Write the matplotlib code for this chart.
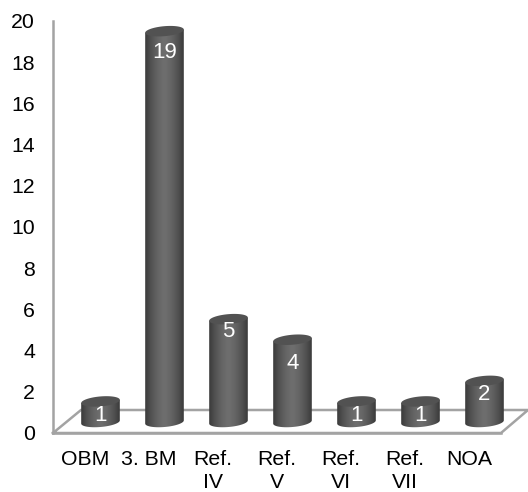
import numpy as np
import matplotlib
matplotlib.use("Agg")
import matplotlib.pyplot as plt
from matplotlib.patches import Polygon

plt.rcParams['font.family'] = ['Liberation Sans', 'DejaVu Sans']

categories = ["OBM", "3. BM", "Ref.\nIV", "Ref.\nV", "Ref.\nVI", "Ref.\nVII", "NOA"]
values = [1, 19, 5, 4, 1, 1, 2]
y_ticks = list(range(0, 21, 2))

W, H = 528, 492
LINE = "#a3a3a3"

fig = plt.figure(figsize=(W / 100, H / 100), dpi=100, facecolor="white")


def px_rect(x0, y_top, x1, y_bottom):
    return [x0 / W, 1 - y_bottom / H, (x1 - x0) / W, (y_bottom - y_top) / H]


# floor lines, in pixels
floor = fig.add_axes([0, 0, 1, 1])
floor.set_xlim(0, W)
floor.set_ylim(H, 0)
floor.axis("off")
floor.plot([53, 81, 528, 501, 53], [433, 410, 410, 433, 433], color=LINE, lw=1.8,
           solid_joinstyle="miter")

# axis with the labels
ax = fig.add_axes(px_rect(53, 21, 501, 433))
ax.patch.set_alpha(0)
ax.set_xlim(-0.5, 6.5)
ax.set_ylim(0, 20)
ax.set_yticks(y_ticks)
ax.set_xticks(range(len(categories)))
ax.set_xticklabels(categories, fontsize=15.3, color="black", linespacing=1.27)
ax.tick_params(axis="y", length=0, pad=13, labelsize=15.3)
ax.tick_params(axis="x", length=0, pad=12.5)
for name in ["top", "right"]:
    ax.spines[name].set_visible(False)
for name in ["left", "bottom"]:
    ax.spines[name].set_color(LINE)
    ax.spines[name].set_linewidth(1.8)

# cylinders, same values but shifted back on the floor
bars = fig.add_axes([0, 0, 1, 1])
bars.patch.set_alpha(0)
bars.axis("off")

half_w = 19.3 / 64
rad = 5 / 20.57
tilt = 1.6 / 20.57
label_drop = [0.68, 1.03, 0.6, 1.18, 0.68, 0.68, 0.68]

shade = np.abs(np.linspace(-1, 1, 64)) ** 1.6
grad = (0.43 - 0.2 * shade).reshape(1, -1)
t = np.linspace(0, 2 * np.pi, 80)

for i, v in enumerate(values):
    # body outline: straight sides, curved bottom
    tb = np.linspace(np.pi, 2 * np.pi, 40)
    xs = i + half_w * np.cos(tb)
    ys = rad * np.sin(tb) + tilt * np.cos(tb)
    xb = np.r_[xs, i + half_w, i - half_w]
    yb = np.r_[ys, v + tilt, v - tilt]
    body = Polygon(np.c_[xb, yb], closed=True, fc="none", ec="none")
    bars.add_patch(body)
    im = bars.imshow(grad, cmap="gray", vmin=0, vmax=1, aspect="auto", interpolation="bilinear",
                     extent=[i - half_w, i + half_w, -rad * 2, v + rad * 2], zorder=2)
    im.set_clip_path(body)
    top = Polygon(np.c_[i + half_w * np.cos(t), v + rad * np.sin(t) + tilt * np.cos(t)],
                  closed=True, fc="#525252", ec="none", zorder=3)
    bars.add_patch(top)
    bars.text(i, v - label_drop[i], str(v), color="white", fontsize=16,
              ha="center", va="center", zorder=4)

bars.set_xlim(-100.5 / 64, (W - 100.5) / 64)
bars.set_ylim(-(H - 422) / 20.57, 422 / 20.57)

fig.savefig("out.png", dpi=100)
